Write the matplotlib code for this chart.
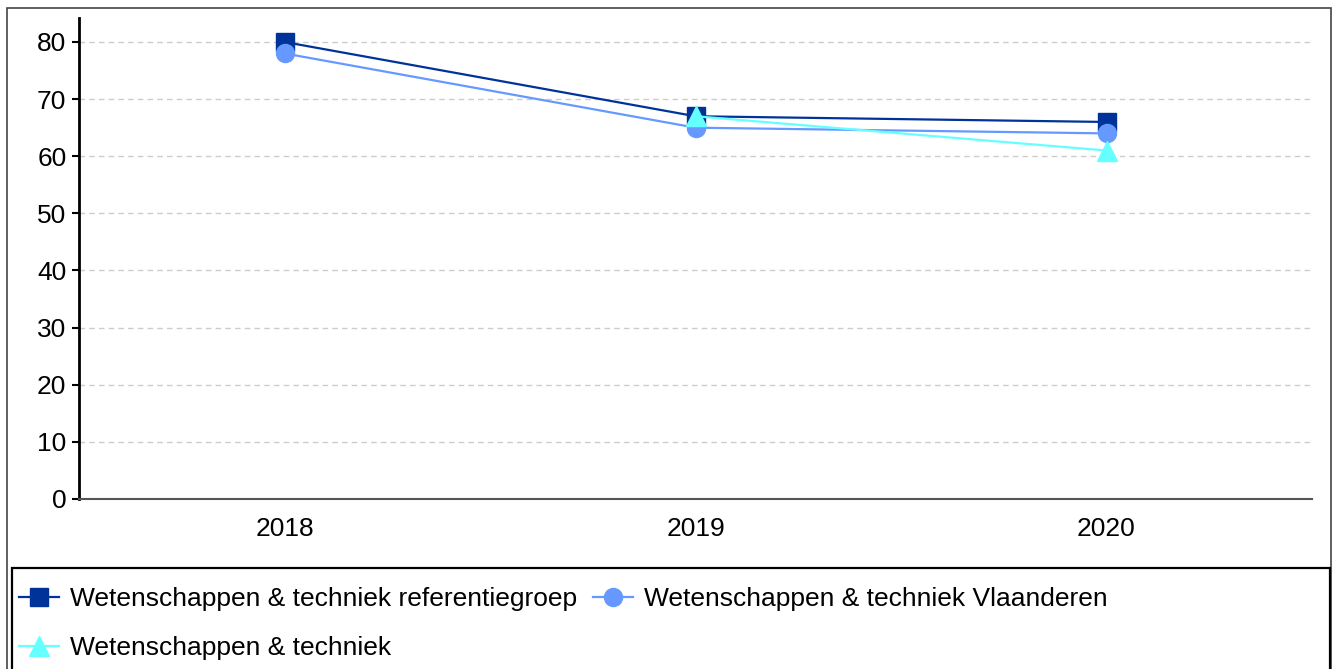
import numpy as np
import matplotlib.pyplot as plt
from matplotlib.patches import Rectangle

plt.rcParams['font.family'] = ['Liberation Sans', 'DejaVu Sans']

# data
jaren = ['2018', '2019', '2020']
referentiegroep = [80, 67, 66]
vlaanderen = [78, 65, 64]
wet_tech = [np.nan, 67, 61]

labels = ['Wetenschappen & techniek referentiegroep',
          'Wetenschappen & techniek Vlaanderen',
          'Wetenschappen & techniek']
kleuren = ['#003399', '#6699FF', '#66FFFF']

fig = plt.figure(figsize=(13.4, 6.69), dpi=100)
ax = fig.add_axes([79 / 1340, 1 - 499 / 669, (1312 - 79) / 1340, (499 - 18) / 669])

x = np.arange(len(jaren))
l1, = ax.plot(x, referentiegroep, color=kleuren[0], marker='s', markersize=13, lw=1.6, label=labels[0])
l2, = ax.plot(x, vlaanderen, color=kleuren[1], marker='o', markersize=13, lw=1.6, label=labels[1])
l3, = ax.plot(x, wet_tech, color=kleuren[2], marker='^', markersize=14, lw=1.6, label=labels[2])

ax.set_xlim(-0.5, 2.5)
ax.set_ylim(0, 84.2)
ax.set_yticks(range(0, 81, 10))
ax.set_xticks(x)
ax.set_xticklabels(jaren)
ax.tick_params(axis='both', labelsize=19, colors='black')
ax.tick_params(axis='x', length=0, pad=13)
ax.tick_params(axis='y', length=5, width=1.5, pad=4)
ax.grid(axis='y', color='#cccccc', linestyle=(0, (4, 3)), linewidth=1)
ax.set_axisbelow(True)
for s in ['top', 'right']:
    ax.spines[s].set_visible(False)
ax.spines['left'].set_linewidth(2)
ax.spines['bottom'].set_color('#555555')
ax.spines['bottom'].set_linewidth(1.5)

# rand rond de figuur en legendekader
fig.patches.append(Rectangle((7 / 1340, -0.01), (1331 - 7) / 1340, 1 - 8 / 669 + 0.01,
                             transform=fig.transFigure, fill=False, edgecolor='#444444', lw=1.2))
fig.patches.append(Rectangle((12 / 1340, -0.01), (1330 - 12) / 1340, 1 - 568 / 669 + 0.01,
                             transform=fig.transFigure, fill=False, edgecolor='black', lw=1.6))

fig.legend([l1, l3, l2], [labels[0], labels[2], labels[1]], ncol=2, frameon=False,
           loc='upper left', bbox_to_anchor=(19 / 1340, 1 - 587 / 669), fontsize=19,
           handlelength=1.5, handletextpad=0.42, columnspacing=0.63, labelspacing=0.95,
           borderaxespad=0, borderpad=0)

fig.savefig('out.png', dpi=100)
